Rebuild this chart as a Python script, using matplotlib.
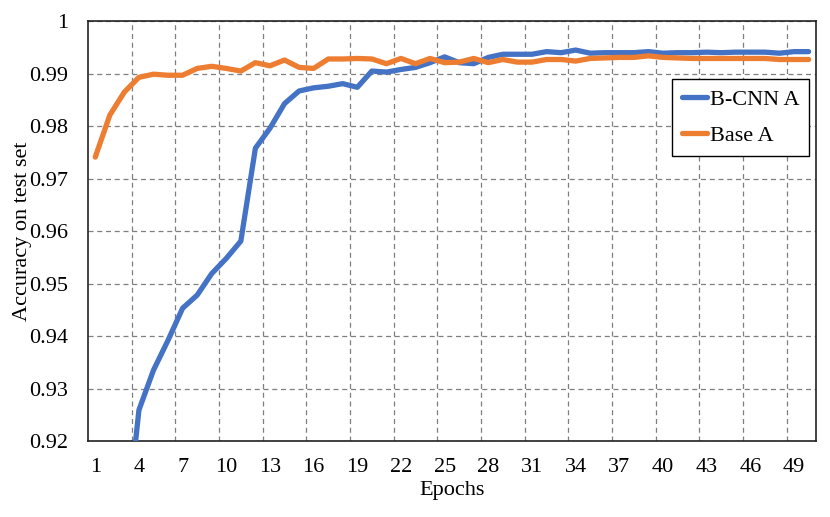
import numpy as np
import matplotlib.pyplot as plt
from matplotlib.ticker import FixedLocator

plt.rcParams['font.family'] = ['Liberation Serif', 'DejaVu Serif']

epochs = np.arange(1, 51)

# B-CNN A, first epochs fall below the visible range
bcnn_a = [0.860, 0.885, 0.900, 0.9259, 0.9335, 0.9392, 0.9453, 0.9478, 0.9519, 0.9548,
          0.9581, 0.9758, 0.9796, 0.9843, 0.9867, 0.9873, 0.9876, 0.9881, 0.9874, 0.9905,
          0.9903, 0.9908, 0.9912, 0.9921, 0.9932, 0.9921, 0.9919, 0.9931, 0.9937, 0.9937,
          0.9937, 0.9942, 0.9940, 0.9945, 0.9939, 0.9940, 0.9940, 0.9940, 0.9942, 0.9939,
          0.9940, 0.9940, 0.9941, 0.9940, 0.9941, 0.9941, 0.9941, 0.9939, 0.9942, 0.9942]

base_a = [0.9741, 0.9821, 0.9865, 0.9893, 0.9899, 0.9897, 0.9897, 0.9910, 0.9914, 0.9910,
          0.9905, 0.9921, 0.9915, 0.9926, 0.9912, 0.9910, 0.9928, 0.9928, 0.9929, 0.9928,
          0.9919, 0.9929, 0.9919, 0.9929, 0.9921, 0.9922, 0.9929, 0.9921, 0.9927, 0.9922,
          0.9922, 0.9927, 0.9927, 0.9924, 0.9929, 0.9930, 0.9931, 0.9931, 0.9934, 0.9931,
          0.9930, 0.9929, 0.9929, 0.9929, 0.9929, 0.9929, 0.9929, 0.9927, 0.9927, 0.9927]

xtick_labels = [str(e) for e in range(1, 51, 3)]
yticks = [0.92, 0.93, 0.94, 0.95, 0.96, 0.97, 0.98, 0.99, 1.0]
ytick_labels = ['0.92', '0.93', '0.94', '0.95', '0.96', '0.97', '0.98', '0.99', '1']

fig = plt.figure(figsize=(8.3, 5.17), dpi=100)
ax = fig.add_axes([0.106, 0.147, 0.877, 0.812])

ax.plot(epochs, bcnn_a, color='#4472C4', lw=3.8, solid_capstyle='round',
        solid_joinstyle='round', label='B-CNN A', zorder=3)
ax.plot(epochs, base_a, color='#ED7D31', lw=3.8, solid_capstyle='round',
        solid_joinstyle='round', label='Base A', zorder=3)

ax.set_xlim(0.5, 50.5)
ax.set_ylim(0.92, 1.0)

ax.set_xticks(range(1, 51, 3))
ax.set_xticklabels(xtick_labels)
ax.xaxis.set_minor_locator(FixedLocator(np.arange(3.5, 50, 3)))
ax.set_yticks(yticks)
ax.set_yticklabels(ytick_labels)
ax.tick_params(axis='both', which='both', length=0, labelsize=16)
ax.tick_params(axis='x', pad=12)
ax.tick_params(axis='y', pad=14.5)

ax.grid(True, which='minor', axis='x', color='#7f7f7f', ls=(0, (4, 3)), lw=0.9)
ax.grid(True, which='major', axis='y', color='#7f7f7f', ls=(0, (4, 3)), lw=0.9)
ax.grid(False, which='major', axis='x')

for s in ax.spines.values():
    s.set_color('#222222')
    s.set_linewidth(1.2)

ax.set_xlabel('Epochs', fontsize=16, labelpad=3)
ax.set_ylabel('Accuracy on test set', fontsize=16, labelpad=-2)

leg = ax.legend(loc='upper right', bbox_to_anchor=(0.975, 0.847),
                bbox_transform=fig.transFigure, fontsize=16, frameon=True,
                fancybox=False, edgecolor='black', handlelength=1.15,
                handletextpad=0.1, labelspacing=0.7, borderpad=0.45,
                borderaxespad=0)
leg.get_frame().set_linewidth(1.0)
leg.get_frame().set_alpha(1)

fig.savefig('out.png', dpi=100)
